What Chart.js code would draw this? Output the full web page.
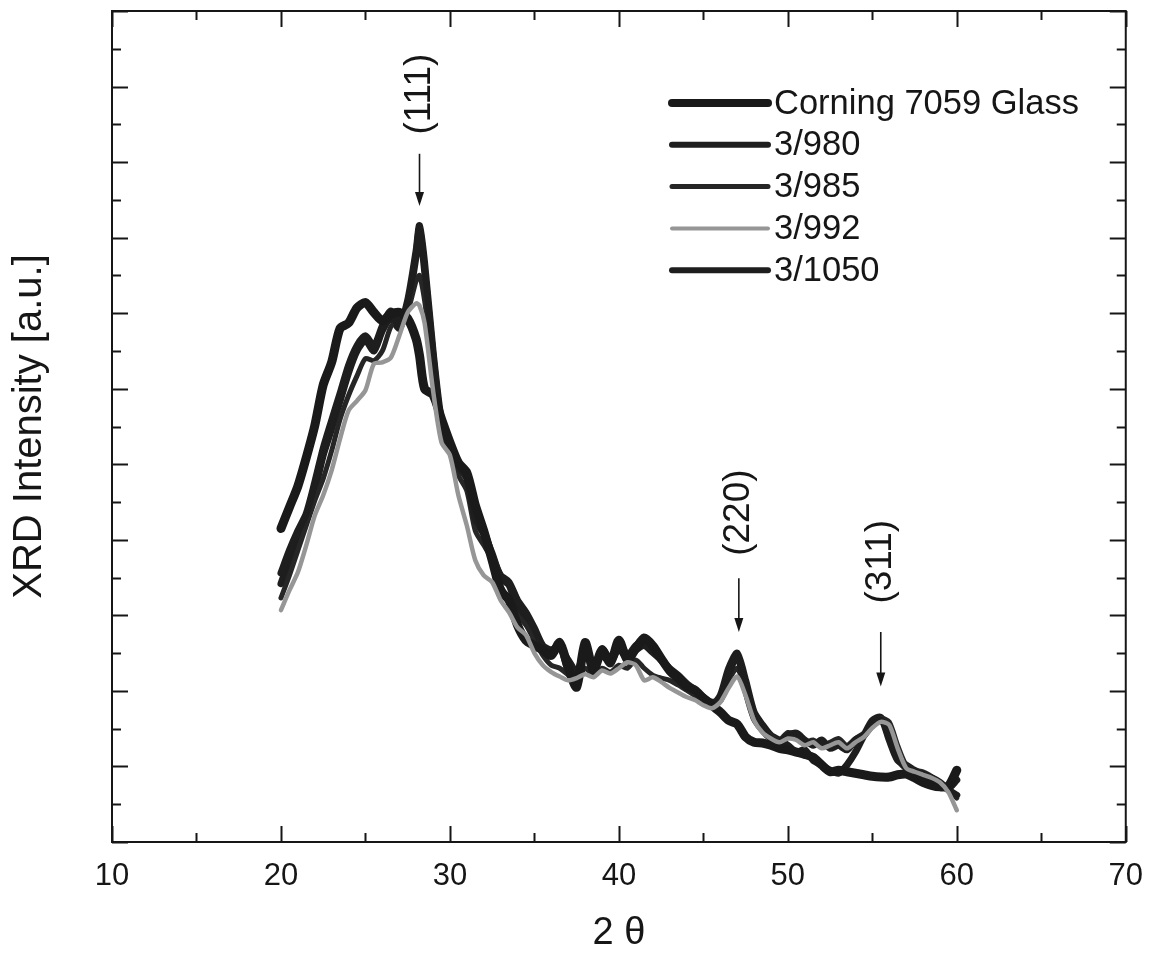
<!DOCTYPE html>
<html>
<head>
<meta charset="utf-8">
<title>XRD</title>
<script src="https://cdn.jsdelivr.net/npm/chart.js@4.4.1/dist/chart.umd.min.js"></script>
<style>
  html, body { margin: 0; padding: 0; background: #fff; }
  #wrap { width: 1159px; height: 958px; }
</style>
</head>
<body>
<div id="wrap"><canvas id="xrd" width="1159" height="958"></canvas></div>
<script>
// 2-theta positions (deg)
const theta = [20,20.5,21,21.5,22,22.5,23,23.5,24,24.5,25,25.5,26,26.5,27,27.5,28,28.2,28.5,29,29.5,
  30,30.5,31,31.5,32,32.5,33,33.5,34,34.5,35,35.5,36,36.5,37,37.5,38,38.5,39,39.5,
  40,40.5,41,41.5,42,42.5,43,43.5,44,44.5,45,45.5,46,46.5,47,47.5,48,48.5,49,49.5,
  50,50.5,51,51.5,52,52.5,53,53.5,54,54.5,55,55.5,56,56.5,57,57.5,58,58.5,59,59.5,60];

// intensities, a.u.
const corning = [415,443,471,509,551,605,635,680,687,707,714,701,690,699,701,693,666,644,600,592,560,
  529,502,489,446,412,373,333,320,287,267,260,254,247,264,231,205,264,227,254,237,
  267,241,256,270,260,243,227,217,206,201,190,181,172,161,156,139,132,131,128,124,
  122,119,116,112,102,93,95,93,91,89,87,86,86,89,90,85,79,75,73,74,95];
const s980 = [356,386,412,435,476,521,558,594,631,657,670,657,683,703,683,717,783,816,767,650,558,
  525,498,481,428,412,379,353,344,320,304,283,260,254,256,241,225,251,234,247,238,
  256,243,254,260,251,241,230,221,210,201,192,185,188,221,247,201,164,148,137,132,
  141,144,135,128,135,124,128,122,135,141,155,161,144,111,98,93,89,85,79,69,62];
const s985 = [323,353,386,419,452,481,518,560,591,617,640,637,650,682,693,703,743,750,717,631,545,
  516,485,465,412,393,373,340,320,300,287,267,247,234,230,221,214,230,221,230,225,
  234,230,241,230,221,217,214,208,201,194,188,181,190,214,230,201,168,151,141,135,
  145,141,132,135,128,132,137,128,137,144,155,164,159,128,102,95,93,87,79,71,58];
const s992 = [307,333,357,393,432,459,492,534,571,584,598,633,635,641,670,701,713,710,687,598,529,
  512,459,419,373,353,344,320,304,284,274,250,234,225,219,214,217,222,218,227,223,
  230,238,234,214,218,212,204,198,192,188,181,177,185,204,219,194,161,145,137,132,
  137,135,128,132,124,128,132,124,132,139,151,159,155,124,98,93,89,85,79,66,42];
const s1050 = [342,373,402,426,465,512,547,584,621,650,664,650,677,693,680,710,776,812,756,644,551,
  521,502,485,426,408,382,350,340,309,291,274,256,254,260,227,212,260,230,256,241,
  264,247,260,267,256,241,227,214,204,197,188,181,194,230,250,214,172,155,141,135,
  128,119,122,108,102,95,91,102,119,141,161,165,135,108,102,95,89,82,75,71,82];

const xTicks = [10, 20, 30, 40, 50, 60, 70];
const peakLabels = ['(111)', '(220)', '(311)'];
const peakTheta = [28.2, 47.1, 55.5];

const ink = '#161616';
const font = "'Liberation Sans', Arial, Helvetica, sans-serif";

function series(values) {
  return values.map((v, i) => ({x: theta[i], y: v}));
}

// frame with inward ticks on all four sides
const frameTicks = {
  id: 'frameTicks',
  afterDatasetsDraw(chart) {
    const {ctx, chartArea: a, scales: {x, y}} = chart;
    ctx.save();
    ctx.strokeStyle = ink;
    ctx.lineWidth = 2;
    ctx.strokeRect(a.left, a.top, a.right - a.left, a.bottom - a.top);
    ctx.beginPath();
    for (let v = 10; v <= 70; v += 5) {
      const px = Math.round(x.getPixelForValue(v)) + 0.5;
      const len = v % 10 === 0 ? 16 : 9;
      ctx.moveTo(px, a.bottom); ctx.lineTo(px, a.bottom - len);
      ctx.moveTo(px, a.top); ctx.lineTo(px, a.top + len);
    }
    for (let v = 0; v <= 1100; v += 50) {
      const py = Math.round(y.getPixelForValue(v)) + 0.5;
      const len = v % 100 === 0 ? 16 : 9;
      ctx.moveTo(a.left, py); ctx.lineTo(a.left + len, py);
      ctx.moveTo(a.right, py); ctx.lineTo(a.right - len, py);
    }
    ctx.stroke();
    ctx.restore();
  }
};

// rotated peak labels with arrows
const peakMarks = {
  id: 'peakMarks',
  afterDraw(chart, args, opts) {
    const {ctx, scales: {x, y}} = chart;
    ctx.save();
    ctx.fillStyle = ink;
    ctx.strokeStyle = ink;
    ctx.font = '37px ' + font;
    ctx.textAlign = 'center';
    ctx.textBaseline = 'middle';
    peakLabels.forEach((lab, i) => {
      const px = x.getPixelForValue(peakTheta[i]);
      const m = opts.marks[i];
      ctx.save();
      ctx.translate(px, y.getPixelForValue(m.text));
      ctx.rotate(-Math.PI / 2);
      ctx.fillText(lab, 0, 0);
      ctx.restore();
      const y0 = y.getPixelForValue(m.from), y1 = y.getPixelForValue(m.to);
      ctx.lineWidth = 1.6;
      ctx.beginPath();
      ctx.moveTo(px, y0); ctx.lineTo(px, y1 - 10);
      ctx.stroke();
      ctx.beginPath();
      ctx.moveTo(px - 4.5, y1 - 14); ctx.lineTo(px + 4.5, y1 - 14); ctx.lineTo(px, y1);
      ctx.closePath();
      ctx.fill();
    });
    ctx.restore();
  }
};

// legend inside the plot, upper right
const insideLegend = {
  id: 'insideLegend',
  afterDraw(chart, args, opts) {
    const {ctx} = chart;
    ctx.save();
    ctx.font = '34.5px ' + font;
    ctx.textBaseline = 'middle';
    ctx.fillStyle = ink;
    chart.data.datasets.forEach((ds, i) => {
      const yy = opts.top + i * opts.gap;
      ctx.strokeStyle = ds.borderColor;
      ctx.lineWidth = ds.legendWidth;
      ctx.lineCap = 'round';
      ctx.beginPath();
      ctx.moveTo(opts.left, yy); ctx.lineTo(opts.left + opts.line, yy);
      ctx.stroke();
      ctx.fillText(ds.label, opts.left + opts.line + 6, yy + 1);
    });
    ctx.restore();
  }
};

new Chart(document.getElementById('xrd'), {
  type: 'line',
  data: {
    datasets: [
      {label: 'Corning 7059 Glass', data: series(corning), borderColor: '#1a1a1a', borderWidth: 9, legendWidth: 8, order: 1},
      {label: '3/980', data: series(s980), borderColor: '#1e1e1e', borderWidth: 7, legendWidth: 6, order: 1},
      {label: '3/985', data: series(s985), borderColor: '#262626', borderWidth: 5, legendWidth: 5, order: 1},
      {label: '3/992', data: series(s992), borderColor: '#969696', borderWidth: 4.5, legendWidth: 4, order: 0},
      {label: '3/1050', data: series(s1050), borderColor: '#1e1e1e', borderWidth: 7, legendWidth: 6, order: 1}
    ]
  },
  options: {
    responsive: false,
    animation: false,
    layout: {padding: {top: 11, right: 26, left: 0, bottom: 0}},
    elements: {
      point: {radius: 0},
      line: {tension: 0.25, borderCapStyle: 'round', borderJoinStyle: 'round'}
    },
    plugins: {
      legend: {display: false},
      tooltip: {enabled: false},
      insideLegend: {left: 672, top: 103, gap: 41.8, line: 96},
      peakMarks: {
        marks: [
          {text: 990, from: 911, to: 842},
          {text: 436, from: 349, to: 278},
          {text: 371, from: 278, to: 206}
        ]
      }
    },
    scales: {
      x: {
        type: 'linear',
        min: 10,
        max: 70,
        afterBuildTicks: (s) => { s.ticks = xTicks.map(v => ({value: v})); },
        afterFit: (s) => { s.height = 116; },
        grid: {display: false, drawTicks: false},
        border: {display: false},
        ticks: {color: ink, padding: 16, font: {family: font, size: 31}},
        title: {display: true, text: '2 θ', color: ink, font: {family: font, size: 38}, padding: {top: 0, bottom: 2}}
      },
      y: {
        min: 0,
        max: 1100,
        afterFit: (s) => { s.width = 112; },
        grid: {display: false, drawTicks: false},
        border: {display: false},
        ticks: {display: false, stepSize: 100},
        title: {display: true, text: 'XRD Intensity [a.u.]', color: ink, font: {family: font, size: 40}, padding: {top: 6, bottom: 0}}
      }
    }
  },
  plugins: [frameTicks, peakMarks, insideLegend]
});
</script>
</body>
</html>
